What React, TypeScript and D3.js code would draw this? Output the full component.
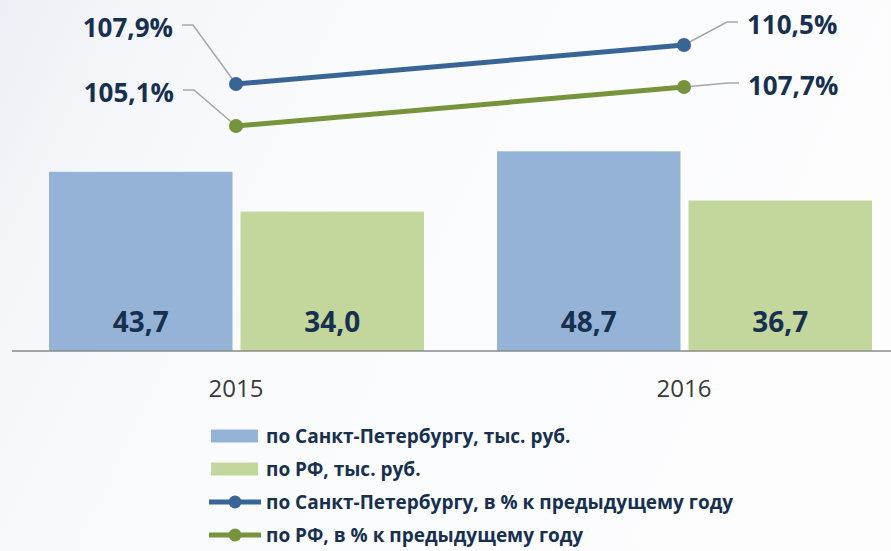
import React from "react";
import * as d3 from "d3";

const years = ["2015", "2016"];
const barSeries = ["по Санкт-Петербургу, тыс. руб.", "по РФ, тыс. руб."];
const spbSalary = [43.7, 48.7];
const rfSalary = [34.0, 36.7];
const lineSeries = [
  "по Санкт-Петербургу, в % к предыдущему году",
  "по РФ, в % к предыдущему году",
];
const spbGrowth = [107.9, 110.5];
const rfGrowth = [105.1, 107.7];

const W = 891;
const H = 551;
const barColors = ["#95b3d7", "#c3d69b"];
const lineColors = ["#386596", "#77933c"];
const textDark = "#17304f";
const font = "'Open Sans', sans-serif";

// where the leader lines bend, relative to each point (manual placement like in the original)
const leaderOffsets = [
  [[-43, -59], [43, -23]],
  [[-42, -36], [44, -4]],
];

const fmt = (v: number) => v.toFixed(1).replace(".", ",");

export default function App() {
  const x = d3.scaleBand().domain(years).range([12, 908]);
  const xInner = d3
    .scaleBand()
    .domain(barSeries)
    .range([37, 412])
    .paddingInner(0.042);
  const y = d3.scaleLinear().domain([0, 60]).range([351, 105]);
  const yPct = d3.scaleLinear().domain([100, 112]).range([202.5, 22.5]);

  const barData = [spbSalary, rfSalary];
  const lineData = [spbGrowth, rfGrowth];
  const cx = (yr: string) => (x(yr) as number) + x.bandwidth() / 2;

  const line = d3
    .line<number>()
    .x((_, i) => cx(years[i]))
    .y((d) => yPct(d));

  return (
    <svg
      width={W}
      height={H}
      style={{ position: "fixed", left: 0, top: 0, fontFamily: font }}
    >
      <defs>
        <linearGradient id="bg" x1="0" y1="0" x2="1" y2="0.3">
          <stop offset="0" stopColor="#eceff5" />
          <stop offset="0.18" stopColor="#f6f7fa" />
          <stop offset="0.45" stopColor="#fafbfd" />
          <stop offset="1" stopColor="#fdfdfe" />
        </linearGradient>
      </defs>
      <rect width={W} height={H} fill="url(#bg)" />

      {/* bars */}
      {barData.map((vals, s) =>
        vals.map((v, i) => {
          const bx = (x(years[i]) as number) + (xInner(barSeries[s]) as number);
          return (
            <g key={`b${s}-${i}`}>
              <rect
                x={bx}
                y={y(v)}
                width={xInner.bandwidth()}
                height={y(0) - y(v)}
                fill={barColors[s]}
              />
              <text
                x={bx + xInner.bandwidth() / 2}
                y={332}
                textAnchor="middle"
                fontSize={28}
                fontWeight={700}
                fill={textDark}
              >
                {fmt(v)}
              </text>
            </g>
          );
        })
      )}

      {/* axis */}
      <line x1={12} x2={W} y1={y(0)} y2={y(0)} stroke="#8a8a8a" strokeWidth={1.5} />
      {years.map((yr) => (
        <text
          key={yr}
          x={cx(yr)}
          y={397}
          textAnchor="middle"
          fontSize={24}
          fill="#3a3a3a"
        >
          {yr}
        </text>
      ))}

      {/* growth lines */}
      {lineData.map((vals, s) => (
        <g key={`l${s}`}>
          <path d={line(vals) || ""} fill="none" stroke={lineColors[s]} strokeWidth={5} />
          {vals.map((v, i) => {
            const px = cx(years[i]);
            const py = yPct(v);
            const [dx, dy] = leaderOffsets[s][i];
            const ex = px + dx;
            const ey = py + dy;
            const dir = dx < 0 ? -1 : 1;
            const hx = ex + dir * 11;
            return (
              <g key={i}>
                <polyline
                  points={`${px},${py} ${ex},${ey} ${hx},${ey}`}
                  fill="none"
                  stroke="#a6a6a6"
                  strokeWidth={1.5}
                />
                <circle cx={px} cy={py} r={7} fill={lineColors[s]} />
                <text
                  x={hx + dir * 9}
                  y={ey + 2}
                  dominantBaseline="central"
                  textAnchor={dir < 0 ? "end" : "start"}
                  fontSize={26}
                  fontWeight={700}
                  fill={textDark}
                >
                  {fmt(v)}%
                </text>
              </g>
            );
          })}
        </g>
      ))}

      {/* legend */}
      {barSeries.map((name, i) => (
        <g key={name} transform={`translate(211, ${436 + i * 33})`}>
          <rect x={0} y={-6.5} width={47} height={13} fill={barColors[i]} />
          <text x={55} y={0} dominantBaseline="central" fontSize={19} fontWeight={700} fill={textDark}>
            {name}
          </text>
        </g>
      ))}
      {lineSeries.map((name, i) => (
        <g key={name} transform={`translate(209, ${502 + i * 33})`}>
          <line x1={0} x2={52} y1={0} y2={0} stroke={lineColors[i]} strokeWidth={5} />
          <circle cx={26} cy={0} r={6.5} fill={lineColors[i]} />
          <text x={57} y={0} dominantBaseline="central" fontSize={19} fontWeight={700} fill={textDark}>
            {name}
          </text>
        </g>
      ))}
    </svg>
  );
}
